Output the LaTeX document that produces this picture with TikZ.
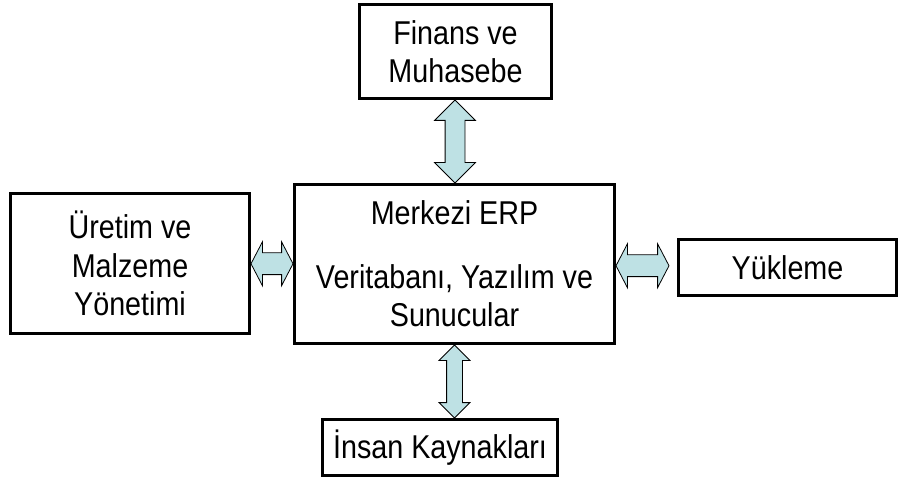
\documentclass[tikz,border=0pt]{standalone}
\usepackage{fontspec}
\setmainfont{Liberation Sans}[FakeStretch=0.87]
\usetikzlibrary{calc,shapes.arrows}
\definecolor{arrfill}{RGB}{190,225,228}
\tikzset{
  box/.style={draw, line width=3pt, inner sep=0pt, align=center,
    font=\fontsize{33}{38.5}\selectfont},
  blockarr/.style={double arrow, draw=black, line width=0.8pt, fill=arrfill,
    inner xsep=0pt},
  varr/.style={blockarr, rotate=90, inner ysep=9.5pt,
    double arrow head extend=10.5pt, double arrow tip angle=90},
  harr/.style={blockarr, inner ysep=10.5pt,
    double arrow head extend=11pt, double arrow tip angle=125}
}

\begin{document}
\begin{tikzpicture}[x=1pt,y=-1pt]
  \useasboundingbox (0,0) rectangle (899,478);
  %%%%% boxes %%%%%
  \node[box, minimum width=192pt, minimum height=94pt] (fin) at (455.5,51.5)
    {Finans ve\\Muhasebe};
  \node[box, minimum width=320pt, minimum height=159pt] (erp) at (454.5,264)
    {Merkezi ERP\\[25pt]Veritabanı, Yazılım ve\\Sunucular};
  \node[box, minimum width=239pt, minimum height=140pt] (pro) at (130,263.5)
    {Üretim ve\\Malzeme\\Yönetimi};
  \node[box, minimum width=218pt, minimum height=56pt] (yuk) at (787.5,267.5)
    {Yükleme};
  \node[box, minimum width=235pt, minimum height=56pt] (ik) at (440,447.5)
    {İnsan Kaynakları};

  \coordinate (ikn) at (erp.south |- ik.north);
  \coordinate (yukw) at ($(yuk.west)+(-8,0)$);

  %%%%% arrows %%%%%
  \path let \p1=(fin.south), \p2=(erp.north) in
    node[varr, minimum height={\y1-\y2}] (a1) at ($(\p1)!.5!(\p2)$) {};
  \path let \p1=(erp.south), \p2=(ikn) in
    node[varr, minimum height={\y1-\y2}, inner ysep=7.5pt,
      double arrow head extend=7.5pt] (a2) at ($(\p1)!.5!(\p2)$) {};
  \path let \p1=(pro.east), \p2=(erp.west) in
    node[harr, minimum height={\x2-\x1}] (a3) at ($(\p1)!.5!(\p2)$) {};
  \path let \p1=(erp.east), \p2=(yukw) in
    node[harr, minimum height={\x2-\x1}] (a4) at ($(\p1)!.5!(\p2)$) {};
\end{tikzpicture}
\end{document}
